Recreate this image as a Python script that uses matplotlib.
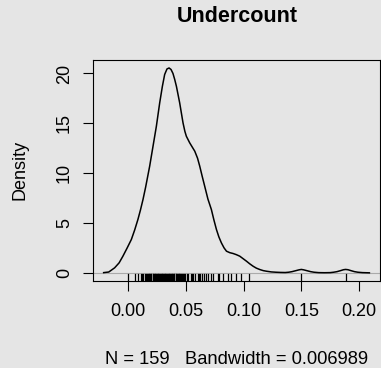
import matplotlib
matplotlib.use("Agg")
import matplotlib.pyplot as plt

plt.rcParams['font.family'] = ['Liberation Sans', 'DejaVu Sans']

# density curve (x, density)
dens_x = [-0.0214, -0.0170, -0.0119, -0.0080, -0.0047, -0.0010, 0.0026, 0.0055,
          0.0083, 0.0105, 0.0127, 0.0150, 0.0185, 0.0214, 0.0243, 0.0272,
          0.0295, 0.0315, 0.0335, 0.0353, 0.0370, 0.0387, 0.0402, 0.0417,
          0.0445, 0.0474, 0.0490, 0.0503, 0.0532, 0.0555, 0.0576, 0.0600,
          0.0619, 0.0640, 0.0662, 0.0690, 0.0720, 0.0742, 0.0764, 0.0785,
          0.0807, 0.0830, 0.0851, 0.0880, 0.0908, 0.0937, 0.0966, 0.0995,
          0.1024, 0.1053, 0.1082, 0.1110, 0.1140, 0.1170, 0.1198, 0.1240,
          0.1280, 0.1320, 0.1360, 0.1390, 0.1420, 0.1450, 0.1480, 0.1500,
          0.1520, 0.1550, 0.1580, 0.1610, 0.1650, 0.1700, 0.1750, 0.1780,
          0.1810, 0.1840, 0.1865, 0.1884, 0.1905, 0.1930, 0.1960, 0.1990,
          0.2030, 0.2090]
dens_y = [0.02, 0.08, 0.50, 1.00, 1.67, 2.50, 3.34, 4.30,
          5.35, 6.30, 7.35, 8.60, 10.7, 12.7, 14.7, 17.06,
          18.7, 19.9, 20.45, 20.55, 20.4, 20.0, 19.4, 18.7,
          17.06, 15.05, 14.2, 13.7, 13.04, 12.6, 12.2, 11.5,
          10.7, 9.7, 8.69, 7.4, 6.35, 5.3, 4.34, 3.6,
          3.0, 2.5, 2.17, 2.02, 1.94, 1.82, 1.67, 1.42,
          1.17, 0.90, 0.66, 0.47, 0.33, 0.22, 0.16, 0.09,
          0.06, 0.04, 0.03, 0.06, 0.12, 0.21, 0.30, 0.34,
          0.30, 0.21, 0.12, 0.06, 0.02, 0.01, 0.02, 0.06,
          0.12, 0.22, 0.31, 0.34, 0.31, 0.22, 0.12, 0.06,
          0.02, 0.0]

# rug positions (observations)
rug_x = [0.000, 0.0055, 0.0085, 0.011, 0.012, 0.013, 0.0145, 0.0155, 0.016,
         0.017, 0.0175, 0.018, 0.019, 0.0195, 0.020, 0.021, 0.0215, 0.022,
         0.023, 0.0235, 0.024, 0.025, 0.0255, 0.026, 0.027, 0.0275, 0.028,
         0.029, 0.0295, 0.030, 0.031, 0.0315, 0.032, 0.033, 0.0335, 0.034,
         0.035, 0.0355, 0.036, 0.037, 0.0375, 0.038, 0.039, 0.0395, 0.040,
         0.041, 0.0415, 0.042, 0.043, 0.0435, 0.044, 0.045, 0.046, 0.0465,
         0.047, 0.048, 0.0495, 0.0505, 0.052, 0.054, 0.0555, 0.056, 0.058,
         0.060, 0.061, 0.062, 0.064, 0.0655, 0.067, 0.0695, 0.072, 0.0735,
         0.0775, 0.079, 0.082, 0.0865, 0.0894, 0.0937, 0.098, 0.1047, 0.150,
         0.1884]

x_ticks = [0.00, 0.05, 0.10, 0.15, 0.20]
x_labels = ["0.00", "0.05", "0.10", "0.15", "0.20"]
y_ticks = [0, 5, 10, 15, 20]
y_labels = ["0", "5", "10", "15", "20"]

bg = "#e5e5e5"
W, H = 381, 368
fig = plt.figure(figsize=(W / 100, H / 100), dpi=100, facecolor=bg)
ax = fig.add_axes([92.7 / W, 1 - 281 / H, (380 - 92.7) / W, (281 - 60) / H])
ax.set_facecolor(bg)

ax.axhline(0, color="#aaaaaa", lw=0.8, zorder=1)
ax.plot(dens_x, dens_y, color="black", lw=1.1, zorder=3)
for rx in rug_x:
    ax.axvline(rx, ymin=0, ymax=0.03, color="black", lw=0.9, zorder=2)

ax.set_xlim(-0.0309, 0.2182)
ax.set_ylim(-0.82, 21.35)

ax.set_xticks(x_ticks)
ax.set_xticklabels(x_labels)
ax.set_yticks(y_ticks)
ax.set_yticklabels(y_labels, rotation=90, va="center")
ax.tick_params(length=7.2, width=0.8, labelsize=13, pad=9)
ax.tick_params(axis="y", pad=7)
for s in ax.spines.values():
    s.set_linewidth(0.8)

fig.text(237 / W, 1 - 16 / H, "Undercount", ha="center", va="center",
         fontsize=15.5, fontweight="bold")
fig.text(237 / W, 1 - 359 / H, "N = 159   Bandwidth = 0.006989",
         ha="center", va="center", fontsize=13.2)
fig.text(20 / W, 1 - 170 / H, "Density", ha="center", va="center",
         fontsize=13, rotation=90)

fig.savefig("out.png", dpi=100, facecolor=bg)
